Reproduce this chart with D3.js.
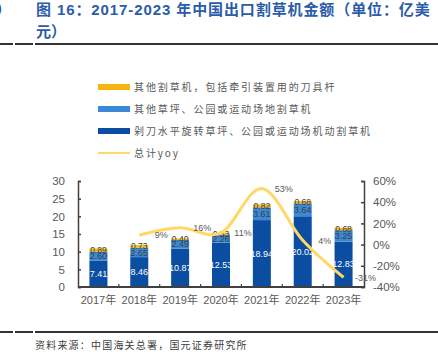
<!DOCTYPE html>
<html><head><meta charset="utf-8">
<script src="https://cdn.jsdelivr.net/npm/d3@7"></script>
<style>
html,body{margin:0;padding:0;background:#fff;}
svg{display:block;font-family:"Liberation Sans","Noto Sans CJK SC",Arial,sans-serif;}
</style></head>
<body><svg id="c" width="438" height="352"></svg>
<script>
const years = ["2017年","2018年","2019年","2020年","2021年","2022年","2023年"];
const rotary = [7.41, 8.46, 10.87, 12.53, 18.94, 20.02, 12.83];
const otherLawn = [2.60, 2.65, 2.49, 2.26, 3.61, 3.64, 3.25];
const otherMower = [0.89, 0.73, 0.40, 0.53, 0.82, 0.68, 0.68];
const yoy = [null, 9, 16, 11, 53, 4, -31];
const leftTicks = [0,5,10,15,20,25,30];
const rightTicks = [-40,-20,0,20,40,60];
const seriesNames = ["其他割草机，包括牵引装置用的刀具杆","其他草坪、公园或运动场地割草机","剁刀水平旋转草坪、公园或运动场机动割草机","总计yoy"];
const colors = ["#F6B60F","#3A88D6","#0B4EA1","#FFD966"];

const svg = d3.select("#c");
const blue = "#2B5CA9";

// title
svg.append("text").attr("x",-4).attr("y",15).attr("font-size",15).attr("font-weight","bold").attr("fill",blue)
  .attr("font-family","Noto Sans CJK SC").text("）");
svg.append("text").attr("x",36).attr("y",15).attr("font-size",15).attr("font-weight","bold").attr("fill",blue)
  .attr("letter-spacing",0.9).attr("font-family","Liberation Sans, Noto Sans CJK SC")
  .text("图 16：2017-2023 年中国出口割草机金额（单位：亿美");
svg.append("text").attr("x",36).attr("y",37).attr("font-size",15).attr("font-weight","bold").attr("fill",blue)
  .attr("font-family","Noto Sans CJK SC").text("元）");

// rules
[[0,13],[15,33],[35,438]].forEach(s=>{
  svg.append("rect").attr("x",s[0]).attr("y",43).attr("width",s[1]-s[0]).attr("height",2).attr("fill","#333");
  svg.append("rect").attr("x",s[0]).attr("y",331).attr("width",s[1]-s[0]).attr("height",2).attr("fill","#333");
});

// source
svg.append("text").attr("x",35).attr("y",349).attr("font-size",10).attr("fill","#404040")
  .attr("letter-spacing",1.2).attr("font-family","Noto Sans CJK SC")
  .text("资料来源：中国海关总署，国元证券研究所");

// legend
const lg = svg.append("g");
seriesNames.forEach((n,i)=>{
  const y = 87 + i*22;
  if(i<3) lg.append("rect").attr("x",98).attr("y",y-3).attr("width",32).attr("height",6).attr("fill",colors[i]);
  else lg.append("rect").attr("x",98).attr("y",y-1).attr("width",32).attr("height",2).attr("fill",colors[i]);
  lg.append("text").attr("x",134).attr("y",y).attr("dy","0.35em").attr("font-size",10).attr("fill","#595959")
    .attr("letter-spacing",1.9).attr("font-family","Noto Sans CJK SC, Liberation Sans").text(n);
});

// scales
const x = d3.scaleBand().domain(years).range([78,364]).padding(0);
const y = d3.scaleLinear().domain([0,30]).range([287,181]);
const yr = d3.scaleLinear().domain([-40,60]).range([287,181]);
const bw = 18;

// axes
const gL = svg.append("g").attr("transform","translate(78,0)")
  .call(d3.axisLeft(y).tickValues(leftTicks).tickSize(-3).tickPadding(13));
const gR = svg.append("g").attr("transform","translate(364,0)")
  .call(d3.axisRight(yr).tickValues(rightTicks).tickSize(-3).tickPadding(9).tickFormat(d=>d+"%"));
[gL,gR].forEach(g=>{
  g.select(".domain").attr("stroke","#404040").attr("stroke-width",1.5);
  g.selectAll(".tick line").attr("stroke","#404040").attr("stroke-width",1.5);
  g.selectAll(".tick text").attr("font-size",11.5).attr("fill","#595959").attr("font-family","Liberation Sans, Arial");
});

// bars
const stackData = years.map((yr_,i)=>({year:yr_, a:rotary[i], b:otherLawn[i], c:otherMower[i]}));
const stack = d3.stack().keys(["a","b","c"])(stackData);
const segColors = [colors[2], colors[1], colors[0]];
stack.forEach((layer,li)=>{
  svg.append("g").selectAll("rect").data(layer).join("rect")
    .attr("x",d=>x(d.data.year)+x.bandwidth()/2-bw/2)
    .attr("width",bw)
    .attr("y",d=>y(d[1]))
    .attr("height",d=>y(d[0])-y(d[1]))
    .attr("fill",segColors[li]);
});
const labelColors = ["#ffffff","#404040","#404040"];
const labelSizes = [9,9,8.5];
stack.forEach((layer,li)=>{
  svg.append("g").selectAll("text").data(layer).join("text")
    .attr("x",d=>x(d.data.year)+x.bandwidth()/2)
    .attr("y",d=>(y(d[0])+y(d[1]))/2)
    .attr("dy","0.35em").attr("text-anchor","middle")
    .attr("font-size",labelSizes[li]).attr("fill",labelColors[li])
    .text(d=>d.data[["a","b","c"][li]].toFixed(2));
});

// x axis
const gX = svg.append("g").attr("transform","translate(0,287)")
  .call(d3.axisBottom(x).tickSize(0).tickPadding(9));
gX.select(".domain").attr("stroke","#404040").attr("stroke-width",2).attr("d","M78,0H364");
gX.selectAll(".tick text").attr("font-size",11).attr("fill","#595959").attr("font-family","Liberation Sans, Noto Sans CJK SC");
years.slice(1).forEach(yv=>{
  svg.append("line").attr("x1",x(yv)).attr("x2",x(yv)).attr("y1",284).attr("y2",287).attr("stroke","#404040").attr("stroke-width",1.2);
});

// yoy line
const pts = years.map((yv,i)=>({x:x(yv)+x.bandwidth()/2, v:yoy[i]})).filter(d=>d.v!==null);
svg.append("path").datum(pts)
  .attr("d",d3.line().x(d=>d.x).y(d=>yr(d.v)).curve(d3.curveCardinal.tension(0)))
  .attr("fill","none").attr("stroke",colors[3]).attr("stroke-width",3);
svg.append("g").selectAll("text").data(pts).join("text")
  .attr("x",d=>d.x+22).attr("y",d=>yr(d.v)).attr("dy","0.35em").attr("text-anchor","middle")
  .attr("font-size",9).attr("fill","#595959").text(d=>d.v+"%");
</script></body></html>
